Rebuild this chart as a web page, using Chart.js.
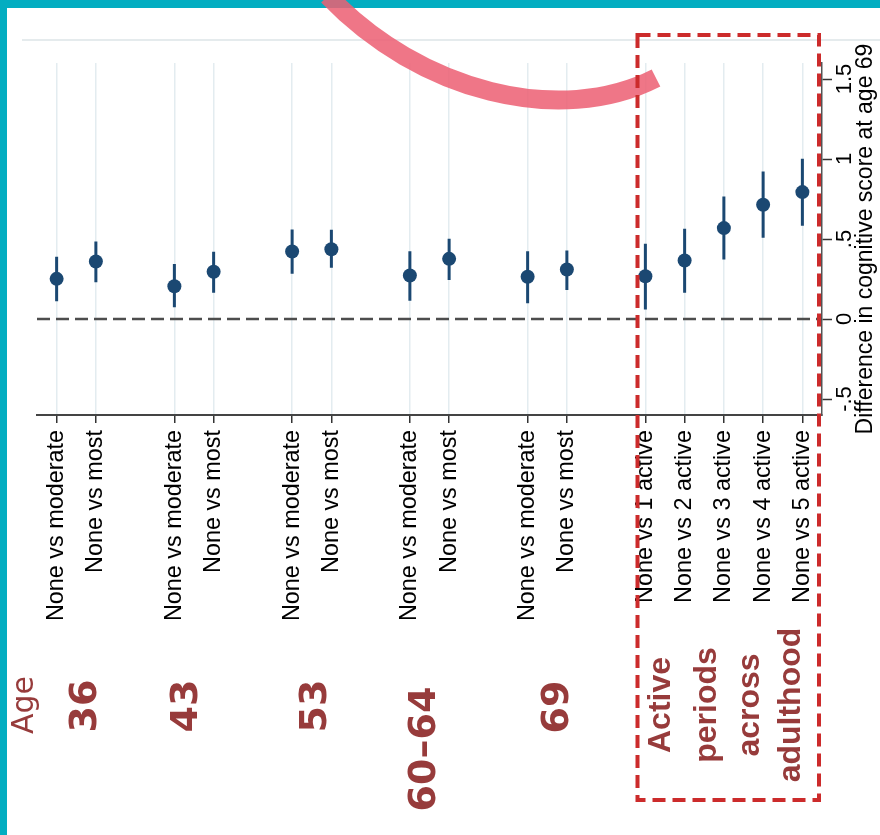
<!DOCTYPE html>
<html>
<head>
<meta charset="utf-8">
<script src="https://cdn.jsdelivr.net/npm/chart.js@4.4.0/dist/chart.umd.min.js"></script>
<style>
html,body{margin:0;padding:0;background:#fff}
canvas{display:block}
</style>
</head>
<body>
<canvas id="c" width="880" height="835"></canvas>
<script>
// comparisons, slot on the x axis (gaps between age groups), estimates and 95% CI
const labels=['None vs moderate','None vs most','None vs moderate','None vs most','None vs moderate','None vs most','None vs moderate','None vs most','None vs moderate','None vs most','None vs 1 active','None vs 2 active','None vs 3 active','None vs 4 active','None vs 5 active'];
const slots=[0,1,3,4,6,7,9,10,12,13,15,16,17,18,19];
const estimate=[0.251,0.359,0.205,0.295,0.422,0.436,0.272,0.376,0.264,0.309,0.267,0.366,0.568,0.714,0.793];
const lower=[0.111,0.230,0.074,0.164,0.283,0.320,0.114,0.243,0.099,0.182,0.059,0.164,0.372,0.508,0.583];
const upper=[0.389,0.484,0.343,0.420,0.559,0.558,0.424,0.501,0.424,0.428,0.470,0.564,0.766,0.922,1.001];
const yTicks=[-0.5,0,0.5,1,1.5];
const yTickLabels=['-.5','0','.5','1','1.5'];
const yTitle='Difference in cognitive score at age 69';
const ageGroups=['36','43','53','60–64','69'];
const activeTitle=['Active','periods','across','adulthood'];

// where the big group captions sit (x in axis units, y in px)
const agePos=[[0.75,706],[3.33,706],[6.61,706],[9.39,749],[12.77,707]];
const activePos=[15.4,16.57,17.66,18.71];

const NAVY='#1b4872',BROWN='#973b3b';
const pts=slots.map((s,i)=>({x:s,y:estimate[i]}));
const bars=[];
slots.forEach((s,i)=>{bars.push({x:s,y:lower[i]},{x:s,y:upper[i]},{x:s,y:null})});

const deco={id:'deco',afterDraw(chart){
  const {ctx,chartArea:a,scales:{x}}=chart;
  ctx.save();
  // faint rule above plot
  ctx.strokeStyle='#e5ebed';ctx.lineWidth=2;
  ctx.beginPath();ctx.moveTo(22,40);ctx.lineTo(880,40);ctx.stroke();
  // teal frame
  ctx.fillStyle='#03adc1';ctx.fillRect(0,0,880,8);ctx.fillRect(0,0,7,835);
  // pink arrow stroke
  ctx.strokeStyle='rgba(236,95,115,.86)';ctx.lineWidth=19;ctx.lineCap='butt';
  ctx.beginPath();ctx.moveTo(328,-4);ctx.bezierCurveTo(420,92,560,127,656,78);ctx.stroke();
  // red dashed box
  ctx.strokeStyle='#cc2b2b';ctx.lineWidth=4;ctx.setLineDash([13,7]);
  ctx.strokeRect(637.5,35,181.5,765);
  ctx.setLineDash([]);
  // rotated captions (read bottom to top)
  const txt=(s,px,py,font,color)=>{
    ctx.save();ctx.translate(px,py);ctx.rotate(-Math.PI/2);
    ctx.font=font;ctx.fillStyle=color;ctx.textAlign='center';ctx.textBaseline='middle';
    ctx.fillText(s,0,0);ctx.restore();
  };
  txt(yTitle,866,(a.top+a.bottom)/2,'23px "Liberation Sans", Arial, sans-serif','#000');
  txt('Age',25,705,'30px "DejaVu Sans", sans-serif',BROWN);
  ageGroups.forEach((g,i)=>txt(g,x.getPixelForValue(agePos[i][0]),agePos[i][1],'bold 38px "DejaVu Sans", sans-serif',BROWN));
  activeTitle.forEach((w,i)=>txt(w,x.getPixelForValue(activePos[i]),705,'bold 32px "Liberation Sans", Arial, sans-serif',BROWN));
  ctx.restore();
}};

new Chart(document.getElementById('c'),{
  type:'scatter',
  data:{datasets:[
    {data:pts,pointRadius:7,pointHoverRadius:7,backgroundColor:NAVY,borderWidth:0,order:0},
    {type:'line',data:bars,showLine:true,spanGaps:false,borderColor:NAVY,borderWidth:3,pointRadius:0,order:1},
    {type:'line',data:[{x:-0.5,y:0},{x:19.5,y:0}],borderColor:'#4d4d4d',borderWidth:2.5,borderDash:[13,6],pointRadius:0,order:2}
  ]},
  options:{
    responsive:false,animation:false,
    layout:{padding:{left:37,top:63,right:0,bottom:0}},
    plugins:{legend:{display:false},tooltip:{enabled:false}},
    scales:{
      x:{type:'linear',min:-0.5,max:19.5,
        afterBuildTicks:s=>{s.ticks=slots.map(v=>({value:v}))},
        afterFit:s=>{s.height=420},
        grid:{color:'#e3ecf0',lineWidth:1.5,tickColor:'#333',tickLength:8,tickWidth:1.5},
        border:{color:'#444',width:2},
        ticks:{minRotation:90,maxRotation:90,autoSkip:false,padding:7,color:'#000',
          font:{family:'"Liberation Sans", Arial, sans-serif',size:23.4},
          callback:(v,i)=>labels[i]}
      },
      y:{position:'right',min:-0.6,max:1.6,
        afterBuildTicks:s=>{s.ticks=yTicks.map(v=>({value:v}))},
        afterFit:s=>{s.width=58},
        grid:{drawOnChartArea:false,tickColor:'#333',tickLength:10,tickWidth:1.5},
        border:{color:'#555',width:1.5},
        ticks:{minRotation:90,maxRotation:90,crossAlign:'center',padding:-2,color:'#000',
          font:{family:'"Liberation Sans", Arial, sans-serif',size:22},
          callback:(v,i)=>yTickLabels[i]}
      }
    }
  },
  plugins:[deco]
});
</script>
</body>
</html>
